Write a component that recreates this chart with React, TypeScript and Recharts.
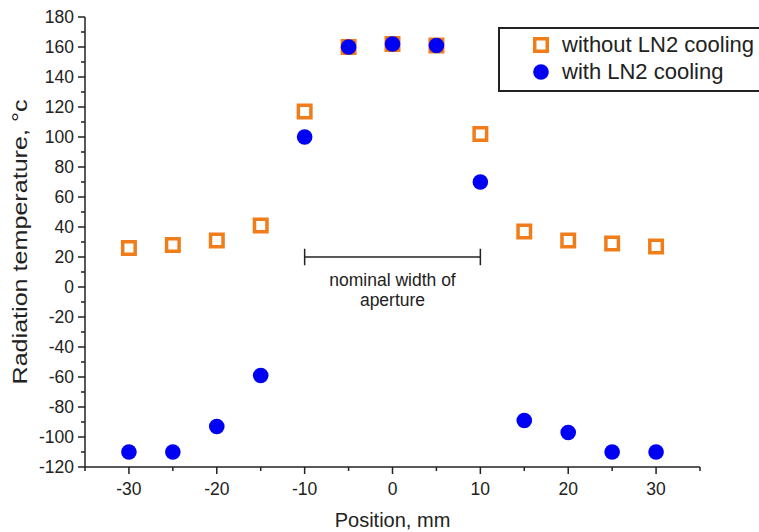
import { ScatterChart, Scatter, XAxis, YAxis, ReferenceLine, Legend } from "recharts";

// Position along the slit, mm
const positions = [-30, -25, -20, -15, -10, -5, 0, 5, 10, 15, 20, 25, 30];
// Radiation temperature, °C
const withoutCooling = [26, 28, 31, 41, 117, 160, 162, 161, 102, 37, 31, 29, 27];
const withCooling = [-110, -110, -93, -59, 100, 160, 162, 161, 70, -89, -97, -110, -110];

const seriesNames = ["without LN2 cooling", "with LN2 cooling"];

const xMajorTicks = [-30, -20, -10, 0, 10, 20, 30];
const xMinorTicks = [-35, -25, -15, -5, 5, 15, 25, 35];
const yMajorTicks = [-120, -100, -80, -60, -40, -20, 0, 20, 40, 60, 80, 100, 120, 140, 160, 180];
const yMinorTicks = [-110, -90, -70, -50, -30, -10, 10, 30, 50, 70, 90, 110, 130, 150, 170];

// "nominal width of aperture" bracket
const apertureFrom = -10;
const apertureTo = 10;
const apertureLevel = 20;
const apertureCap = 5.5;

const FONT = '"Liberation Sans", Arial, sans-serif';
const ORANGE = "#F07D1A";
const BLUE = "#0000F2";
const INK = "#222";
const SQUARE = 12.5;
const DOT_R = 7.8;
const TICK_FONT = 17.5;

const withoutData = positions.map((x, i) => ({ x, y: withoutCooling[i] }));
const withData = positions.map((x, i) => ({ x, y: withCooling[i] }));

// Recharts hands the shape its own size props; only cx/cy are used here
function Square({ cx, cy }: any) {
  return (
    <rect
      x={cx - SQUARE / 2}
      y={cy - SQUARE / 2}
      width={SQUARE}
      height={SQUARE}
      fill="none"
      stroke={ORANGE}
      strokeWidth={3.5}
    />
  );
}

function Dot({ cx, cy }: any) {
  return <circle cx={cx} cy={cy} r={DOT_R} fill={BLUE} />;
}

function XTick({ x, y, payload }: any) {
  const major = xMajorTicks.includes(payload.value);
  return (
    <g>
      <line x1={x} x2={x} y1={y} y2={y + (major ? 7 : 4)} stroke={INK} strokeWidth={1.5} />
      {major && (
        <text x={x} y={y + 28} textAnchor="middle" fontSize={TICK_FONT} fill={INK} fontFamily={FONT}>
          {payload.value}
        </text>
      )}
    </g>
  );
}

function YTick({ x, y, payload }: any) {
  const major = yMajorTicks.includes(payload.value);
  return (
    <g>
      <line x1={x} x2={x - (major ? 7 : 4)} y1={y} y2={y} stroke={INK} strokeWidth={1.5} />
      {major && (
        <text x={x - 11} y={y} dy="0.36em" textAnchor="end" fontSize={TICK_FONT} fill={INK} fontFamily={FONT}>
          {payload.value}
        </text>
      )}
    </g>
  );
}

function YTitle({ viewBox }: any) {
  const cy = viewBox.y + viewBox.height / 2;
  return (
    <text
      x={27}
      y={cy}
      transform={`rotate(-90, 27, ${cy})`}
      textAnchor="middle"
      fontSize={20}
      textLength={285}
      lengthAdjust="spacingAndGlyphs"
      fill={INK}
      fontFamily={FONT}
    >
      Radiation temperature, °c
    </text>
  );
}

function ApertureLabel({ viewBox }: any) {
  const cx = viewBox.x + viewBox.width / 2;
  const y = viewBox.y;
  return (
    <g fontSize={17.5} fill={INK} fontFamily={FONT} textAnchor="middle">
      <text x={cx} y={y + 29}>nominal width of</text>
      <text x={cx} y={y + 49}>aperture</text>
    </g>
  );
}

// legend box runs off the right edge of the picture, so no right border
function LegendBox() {
  return (
    <div
      style={{
        width: 261,
        boxSizing: "border-box",
        border: `2px solid ${INK}`,
        borderRight: "none",
        padding: "2px 0 5px 0",
        fontFamily: FONT,
        fontSize: 22,
        color: INK,
        background: "#fff",
      }}
    >
      {seriesNames.map((name, i) => (
        <div key={name} style={{ display: "flex", alignItems: "center", height: 27 }}>
          <svg width={62} height={20}>
            {i === 0 ? <Square cx={41} cy={10} /> : <Dot cx={41} cy={10} />}
          </svg>
          <span style={{ whiteSpace: "nowrap" }}>{name}</span>
        </div>
      ))}
    </div>
  );
}

export default function App() {
  return (
    <div style={{ position: "absolute", left: 0, top: 0, width: 759, height: 532, overflow: "hidden", background: "#fff" }}>
      <ScatterChart width={759} height={532} margin={{ top: 17, right: 59, left: 0, bottom: 0 }}>
        <XAxis
          type="number"
          dataKey="x"
          domain={[-35, 35]}
          ticks={[...xMinorTicks, ...xMajorTicks].sort((a, b) => a - b)}
          interval={0}
          height={65}
          tickSize={0}
          tickMargin={0}
          tickLine={false}
          tick={<XTick />}
          axisLine={{ stroke: INK, strokeWidth: 1.5 }}
          label={{ value: "Position, mm", position: "insideBottom", offset: 5, fontSize: 20, fill: INK, fontFamily: FONT }}
        />
        <YAxis
          type="number"
          dataKey="y"
          domain={[-120, 180]}
          ticks={[...yMinorTicks, ...yMajorTicks].sort((a, b) => a - b)}
          interval={0}
          width={85}
          tickSize={0}
          tickMargin={0}
          tickLine={false}
          tick={<YTick />}
          axisLine={{ stroke: INK, strokeWidth: 1.5 }}
          label={(props: any) => <YTitle {...props} />}
        />
        <ReferenceLine
          segment={[{ x: apertureFrom, y: apertureLevel }, { x: apertureTo, y: apertureLevel }]}
          stroke={INK}
          strokeWidth={1.5}
          label={(props: any) => <ApertureLabel {...props} />}
        />
        <ReferenceLine
          segment={[{ x: apertureFrom, y: apertureLevel - apertureCap }, { x: apertureFrom, y: apertureLevel + apertureCap }]}
          stroke={INK}
          strokeWidth={1.5}
        />
        <ReferenceLine
          segment={[{ x: apertureTo, y: apertureLevel - apertureCap }, { x: apertureTo, y: apertureLevel + apertureCap }]}
          stroke={INK}
          strokeWidth={1.5}
        />
        <Legend
          layout="horizontal"
          verticalAlign="middle"
          align="center"
          wrapperStyle={{ left: 498, top: 27, width: 261 }}
          content={<LegendBox />}
        />
        <Scatter name={seriesNames[0]} data={withoutData} shape={<Square />} isAnimationActive={false} />
        <Scatter name={seriesNames[1]} data={withData} shape={<Dot />} isAnimationActive={false} />
      </ScatterChart>
    </div>
  );
}
